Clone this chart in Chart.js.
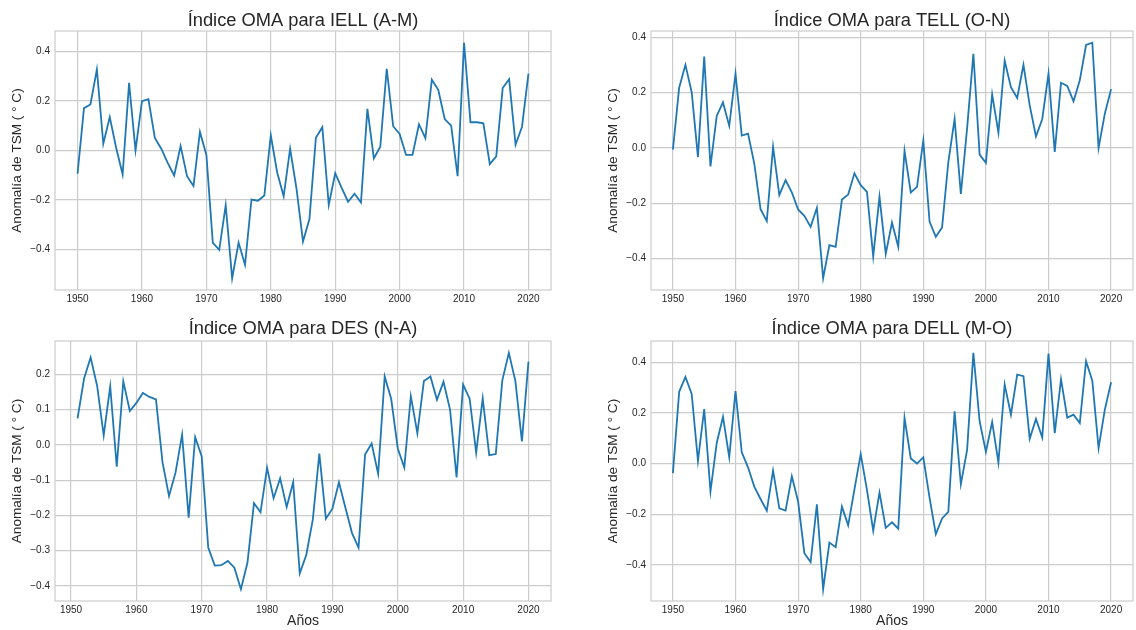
<!DOCTYPE html>
<html>
<head>
<meta charset="utf-8">
<script src="https://cdn.jsdelivr.net/npm/chart.js@4.4.0/dist/chart.umd.min.js"></script>
<style>
  body { margin: 0; background: #fff; }
  #wrap { position: relative; width: 1136px; height: 630px; }
  canvas { position: absolute; }
</style>
</head>
<body>
<div id="wrap">
  <canvas id="c1" width="568" height="315" style="left:0;top:0"></canvas>
  <canvas id="c2" width="568" height="315" style="left:568px;top:0"></canvas>
  <canvas id="c3" width="568" height="315" style="left:0;top:315px"></canvas>
  <canvas id="c4" width="568" height="315" style="left:568px;top:315px"></canvas>
</div>
<script>
// años 1950-2020
const years = [1950, 1951, 1952, 1953, 1954, 1955, 1956, 1957, 1958, 1959,
  1960, 1961, 1962, 1963, 1964, 1965, 1966, 1967, 1968, 1969,
  1970, 1971, 1972, 1973, 1974, 1975, 1976, 1977, 1978, 1979,
  1980, 1981, 1982, 1983, 1984, 1985, 1986, 1987, 1988, 1989,
  1990, 1991, 1992, 1993, 1994, 1995, 1996, 1997, 1998, 1999,
  2000, 2001, 2002, 2003, 2004, 2005, 2006, 2007, 2008, 2009,
  2010, 2011, 2012, 2013, 2014, 2015, 2016, 2017, 2018, 2019, 2020];
const yearsDES = years.slice(1); // DES empieza en 1951

const iell = [-0.094, 0.171, 0.186, 0.327, 0.027, 0.135, 0.01, -0.097, 0.273, 0.0,
  0.199, 0.207, 0.051, 0.007, -0.05, -0.101, 0.018, -0.104, -0.143, 0.075,
  -0.018, -0.373, -0.401, -0.221, -0.516, -0.372, -0.462, -0.198, -0.203, -0.182,
  0.061, -0.09, -0.185, 0.007, -0.156, -0.368, -0.277, 0.051, 0.094, -0.22,
  -0.092, -0.151, -0.207, -0.175, -0.21, 0.168, -0.032, 0.015, 0.33, 0.098,
  0.067, -0.018, -0.018, 0.106, 0.05, 0.286, 0.245, 0.127, 0.1, -0.104,
  0.435, 0.114, 0.114, 0.11, -0.055, -0.024, 0.252, 0.288, 0.023, 0.096, 0.31];

const tell = [-0.006, 0.218, 0.301, 0.202, -0.033, 0.331, -0.067, 0.116, 0.165, 0.08,
  0.269, 0.045, 0.052, -0.057, -0.222, -0.265, 0.004, -0.171, -0.117, -0.161,
  -0.223, -0.246, -0.286, -0.217, -0.472, -0.352, -0.358, -0.187, -0.169, -0.092,
  -0.135, -0.159, -0.393, -0.177, -0.384, -0.27, -0.358, -0.011, -0.161, -0.141,
  0.027, -0.267, -0.322, -0.288, -0.051, 0.105, -0.167, 0.072, 0.341, -0.024,
  -0.054, 0.194, 0.055, 0.316, 0.22, 0.181, 0.301, 0.154, 0.042, 0.104,
  0.269, -0.014, 0.236, 0.225, 0.169, 0.245, 0.373, 0.381, 0.0, 0.124, 0.213];

const des = [0.075, 0.188, 0.248, 0.167, 0.027, 0.166, -0.062, 0.18, 0.096,
  0.119, 0.147, 0.136, 0.129, -0.049, -0.145, -0.078, 0.029, -0.206, 0.022,
  -0.033, -0.291, -0.342, -0.341, -0.329, -0.348, -0.409, -0.334, -0.165, -0.191,
  -0.065, -0.151, -0.095, -0.176, -0.106, -0.364, -0.312, -0.212, -0.025, -0.209,
  -0.181, -0.106, -0.179, -0.25, -0.291, -0.027, 0.004, -0.082, 0.194, 0.13,
  -0.01, -0.064, 0.138, 0.033, 0.181, 0.194, 0.128, 0.179, 0.1, -0.092,
  0.171, 0.131, -0.022, 0.132, -0.029, -0.026, 0.183, 0.261, 0.181, 0.01, 0.236];

const dell = [-0.038, 0.283, 0.342, 0.275, 0.011, 0.215, -0.11, 0.081, 0.184, 0.025,
  0.286, 0.044, -0.015, -0.091, -0.14, -0.186, -0.028, -0.177, -0.186, -0.05,
  -0.15, -0.354, -0.389, -0.161, -0.496, -0.312, -0.33, -0.17, -0.244, -0.102,
  0.037, -0.104, -0.265, -0.115, -0.254, -0.232, -0.257, 0.18, 0.02, 0.0,
  0.024, -0.135, -0.279, -0.217, -0.191, 0.206, -0.082, 0.054, 0.437, 0.166,
  0.046, 0.164, 0.004, 0.312, 0.193, 0.351, 0.345, 0.098, 0.176, 0.103,
  0.434, 0.12, 0.333, 0.181, 0.193, 0.16, 0.404, 0.327, 0.061, 0.213, 0.321];

const xTicks = [1950, 1960, 1970, 1980, 1990, 2000, 2010, 2020];
const yTicks = [-0.4, -0.2, 0.0, 0.2, 0.4];
const yTicksDES = [-0.4, -0.3, -0.2, -0.1, 0.0, 0.1, 0.2];

const FONT = "'Liberation Sans', Arial, sans-serif";
const TXT = '#262626';
const GRID = '#cccccc';

// marco gris alrededor del área (spines)
const frame = {
  id: 'frame',
  afterDatasetsDraw(chart) {
    const a = chart.chartArea, ctx = chart.ctx;
    ctx.save();
    ctx.strokeStyle = GRID;
    ctx.lineWidth = 1.2;
    ctx.strokeRect(a.left, a.top, a.right - a.left, a.bottom - a.top);
    ctx.restore();
  }
};

function pad(lo, hi) {
  const m = (hi - lo) * 0.05;
  return [lo - m, hi + m];
}

function makeChart(id, titulo, xs, vals, ticksY, o) {
  const [xmin, xmax] = pad(Math.min(...xs), Math.max(...xs));
  const [ymin, ymax] = pad(Math.min(...vals), Math.max(...vals));
  new Chart(document.getElementById(id), {
    type: 'line',
    data: {
      datasets: [{
        data: xs.map((x, i) => ({ x: x, y: vals[i] })),
        borderColor: '#1f77b4',
        borderWidth: 1.8,
        pointRadius: 0,
        tension: 0,
        fill: false
      }]
    },
    options: {
      responsive: false,
      animation: false,
      layout: { padding: { left: o.padLeft, right: o.padRight, top: 0, bottom: 0 } },
      plugins: {
        legend: { display: false },
        tooltip: { enabled: false },
        title: {
          display: true,
          fullSize: false,
          text: titulo,
          color: TXT,
          font: { family: FONT, size: 18.3, weight: 'normal', lineHeight: 1 },
          padding: { top: o.titleTop, bottom: o.titleBottom }
        }
      },
      scales: {
        x: {
          type: 'linear',
          min: xmin,
          max: xmax,
          afterBuildTicks: s => { s.ticks = xTicks.map(v => ({ value: v })); },
          afterFit: s => { s.height = o.xHeight; },
          grid: { color: GRID, lineWidth: 1.2, drawTicks: false },
          border: { display: false },
          ticks: {
            color: TXT, padding: 3, maxRotation: 0,
            font: { family: FONT, size: 10 },
            callback: v => String(v)
          },
          title: {
            display: o.xTitle,
            text: 'Años',
            color: TXT,
            font: { family: FONT, size: 14 },
            padding: { top: 0, bottom: 0 }
          }
        },
        y: {
          min: ymin,
          max: ymax,
          afterBuildTicks: s => { s.ticks = ticksY.map(v => ({ value: v })); },
          afterFit: s => { s.width = 55; },
          grid: { color: GRID, lineWidth: 1.2, drawTicks: false },
          border: { display: false },
          ticks: {
            color: TXT, padding: 5,
            font: { family: FONT, size: 10 },
            callback: v => v.toFixed(1).replace('-', '\u2212')
          },
          title: {
            display: true,
            text: 'Anomalía de TSM ( ° C)',
            color: TXT,
            font: { family: FONT, size: 13.6 },
            padding: { top: 9, bottom: 0 }
          }
        }
      }
    },
    plugins: [frame]
  });
}

makeChart('c1', 'Índice OMA para IELL (A-M)', years, iell, yTicks,
  { padLeft: 0, padRight: 17, titleTop: 11.4, titleBottom: 1.3, xHeight: 25, xTitle: false });
makeChart('c2', 'Índice OMA para TELL (O-N)', years, tell, yTicks,
  { padLeft: 28, padRight: 3, titleTop: 11.4, titleBottom: 1.3, xHeight: 25, xTitle: false });
makeChart('c3', 'Índice OMA para DES (N-A)', yearsDES, des, yTicksDES,
  { padLeft: 0, padRight: 17, titleTop: 5, titleBottom: 2.7, xHeight: 29, xTitle: true });
makeChart('c4', 'Índice OMA para DELL (M-O)', years, dell, yTicks,
  { padLeft: 28, padRight: 3, titleTop: 5, titleBottom: 2.7, xHeight: 29, xTitle: true });
</script>
</body>
</html>
